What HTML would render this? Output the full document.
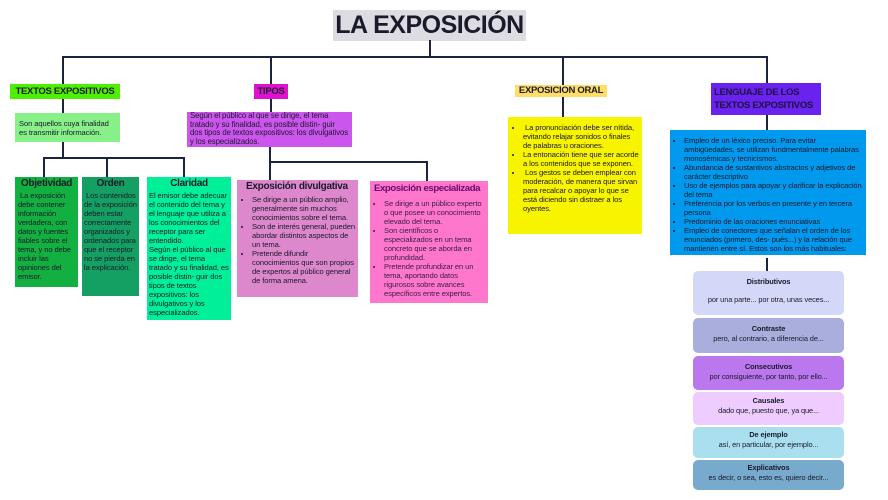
<!DOCTYPE html>
<html><head><meta charset="utf-8"><style>
*{margin:0;padding:0;box-sizing:border-box}
body{width:888px;height:500px;background:#fff;position:relative;overflow:hidden;font-family:"Liberation Sans",sans-serif;color:#1a1a2a}
.a{position:absolute}
.l{position:absolute;background:#1b2340}
.t{font-size:7.6px;line-height:9px;letter-spacing:-0.1px}
.h{font-weight:bold;font-size:10px;letter-spacing:-0.3px;white-space:nowrap}
ul{padding-left:12px}
li{margin:0}
.c{position:absolute;left:693px;width:151px;border-radius:5px;text-align:center;font-size:7.4px;line-height:10px;letter-spacing:-0.1px}
.c b{display:block}
</style></head><body>
<div class="a" style="left:333px;top:10px;width:193px;height:31px;background:#dcdce2;font-weight:bold;font-size:25px;line-height:31px;text-align:center;letter-spacing:-0.5px">LA EXPOSICIÓN</div>
<div class="l" style="left:429px;top:40px;width:2px;height:18px"></div>
<div class="l" style="left:62px;top:56px;width:706px;height:2px"></div>
<div class="l" style="left:62px;top:56px;width:2px;height:57px"></div>
<div class="l" style="left:270px;top:56px;width:2px;height:56px"></div>
<div class="l" style="left:562px;top:56px;width:2px;height:61px"></div>
<div class="l" style="left:766px;top:56px;width:2px;height:74px"></div>

<div class="a h" style="left:10px;top:84px;width:110px;height:15px;background:#4cf000;line-height:15px;text-align:center;font-size:9.5px">TEXTOS EXPOSITIVOS</div>
<div class="a t" style="left:15px;top:113px;width:105px;height:29px;background:#88f088;padding:6px 4px">Son aquellos cuya finalidad es transmitir información.</div>
<div class="l" style="left:62px;top:142px;width:2px;height:17px"></div>
<div class="l" style="left:43px;top:157px;width:142px;height:2px"></div>
<div class="l" style="left:43px;top:157px;width:2px;height:20px"></div>
<div class="l" style="left:106px;top:157px;width:2px;height:20px"></div>
<div class="l" style="left:183px;top:157px;width:2px;height:20px"></div>
<div class="a t" style="left:15px;top:177px;width:63px;height:110px;background:#12b040;padding:2px 3px"><div class="h" style="text-align:center;font-size:10px;margin-bottom:3px">Objetividad</div>&nbsp;La exposición debe contener información verdadera, con datos y fuentes fiables sobre el tema, y no debe incluir las opiniones del emisor.</div>
<div class="a t" style="left:82px;top:177px;width:57px;height:119px;background:#13a062;padding:2px 2px"><div class="h" style="text-align:center;font-size:10px;margin-bottom:3px">Orden</div>&nbsp;Los contenidos de la exposición deben estar correctamente organizados y ordenados para que el receptor no se pierda en la explicación.</div>
<div class="a t" style="left:147px;top:177px;width:84px;height:143px;background:#00f09a;padding:2px 2px"><div class="h" style="text-align:center;font-size:10px;margin-bottom:3px">Claridad</div>El emisor debe adecuar el contenido del tema y el lenguaje que utiliza a los conocimientos del receptor para ser entendido.<br>Según el público al que se dirige, el tema tratado y su finalidad, es posible distin- guir dos tipos de textos expositivos: los divulgativos y los especializados.</div>

<div class="a h" style="left:254px;top:84px;width:34px;height:15px;background:#e010d0;line-height:15px;text-align:center;font-size:9.5px">TIPOS</div>
<div class="a t" style="left:187px;top:112px;width:165px;height:35px;background:#cc55ee;padding:0 3px;font-size:7.8px;line-height:8.5px">Según el público al que se dirige, el tema tratado y su finalidad, es posible distin- guir dos tipos de textos expositivos: los divulgativos y los especializados.</div>
<div class="l" style="left:269px;top:147px;width:2px;height:33px"></div>
<div class="l" style="left:269px;top:161px;width:159px;height:2px"></div>
<div class="l" style="left:426px;top:161px;width:2px;height:20px"></div>
<div class="a t" style="left:237px;top:180px;width:121px;height:117px;background:#dd88cc;padding:2px 3px"><div class="h" style="font-size:10px;margin-bottom:4px;padding-left:6px">Exposición divulgativa</div><ul><li>Se dirige a un público amplio, generalmente sin muchos conocimientos sobre el tema.</li><li>Son de interés general, pueden abordar distintos aspectos de un tema.</li><li>Pretende difundir conocimientos que son propios de expertos al público general de forma amena.</li></ul></div>
<div class="a t" style="left:370px;top:181px;width:118px;height:122px;background:#ff77cc;padding:2px 2px;color:#3a1a4a"><div class="h" style="font-size:9.6px;margin:1px 0 6px 2px;color:#6a0a6a;letter-spacing:-0.4px">Exposición especializada</div><ul><li>Se dirige a un público experto o que posee un conocimiento elevado del tema.</li><li>Son científicos o especializados en un tema concreto que se aborda en profundidad.</li><li>Pretende profundizar en un tema, aportando datos rigurosos sobre avances específicos entre expertos.</li></ul></div>

<div class="a h" style="left:515px;top:85px;width:92px;height:12px;background:#ffdd66;line-height:12px;text-align:center;font-size:9.5px">EXPOSICION ORAL</div>
<div class="a t" style="left:508px;top:117px;width:134px;height:117px;background:#f8f400;padding:6px 3px"><ul><li>&nbsp;La pronunciación debe ser nítida, evitando relajar sonidos o finales de palabras u oraciones.</li><li>La entonación tiene que ser acorde a los contenidos que se exponen.</li><li>&nbsp;Los gestos se deben emplear con moderación, de manera que sirvan para recalcar o apoyar lo que se está diciendo sin distraer a los oyentes.</li></ul></div>

<div class="a h" style="left:711px;top:83px;width:110px;height:32px;background:#6a22ee;line-height:13px;padding:3px 3px;font-size:9.5px;color:#1a1440;white-space:normal">LENGUAJE DE LOS TEXTOS EXPOSITIVOS</div>
<div class="a t" style="left:670px;top:130px;width:196px;height:125px;background:#0099ee;padding:6px 2px"><ul><li>Empleo de un léxico preciso. Para evitar ambigüedades, se utilizan fundmentalmente palabras monosémicas y tecnicismos.</li><li>Abundancia de sustantivos abstractos y adjetivos de carácter descriptivo</li><li>Uso de ejemplos para apoyar y clarificar la explicación del tema</li><li>Preferencia por los verbos en presente y en tercera persona</li><li>Predominio de las oraciones enunciativas</li><li>Empleo de conectores que señalan el orden de los enunciados (primero, des- pués...) y la relación que mantienen entre sí. Estos son los más habituales:</li></ul></div>
<div class="l" style="left:766px;top:258px;width:2px;height:13px"></div>

<div class="c" style="top:271px;height:44px;background:#d4d8f8;padding-top:6px"><b>Distributivos</b><div style="margin-top:8px">por una parte... por otra, unas veces...</div></div>
<div class="c" style="top:318px;height:35px;background:#aaaedd;padding-top:6px"><b>Contraste</b>pero, al contrario, a diferencia de...</div>
<div class="c" style="top:356px;height:34px;background:#bb77ee;padding-top:6px"><b>Consecutivos</b>por consiguiente, por tanto, por ello...</div>
<div class="c" style="top:392px;height:33px;background:#eeccff;padding-top:4px"><b>Causales</b>dado que, puesto que, ya que...</div>
<div class="c" style="top:427px;height:31px;background:#aadff0;padding-top:3px"><b>De ejemplo</b>así, en particular, por ejemplo...</div>
<div class="c" style="top:460px;height:30px;background:#77aacc;padding-top:3px"><b>Explicativos</b>es decir, o sea, esto es, quiero decir...</div>
</body></html>
